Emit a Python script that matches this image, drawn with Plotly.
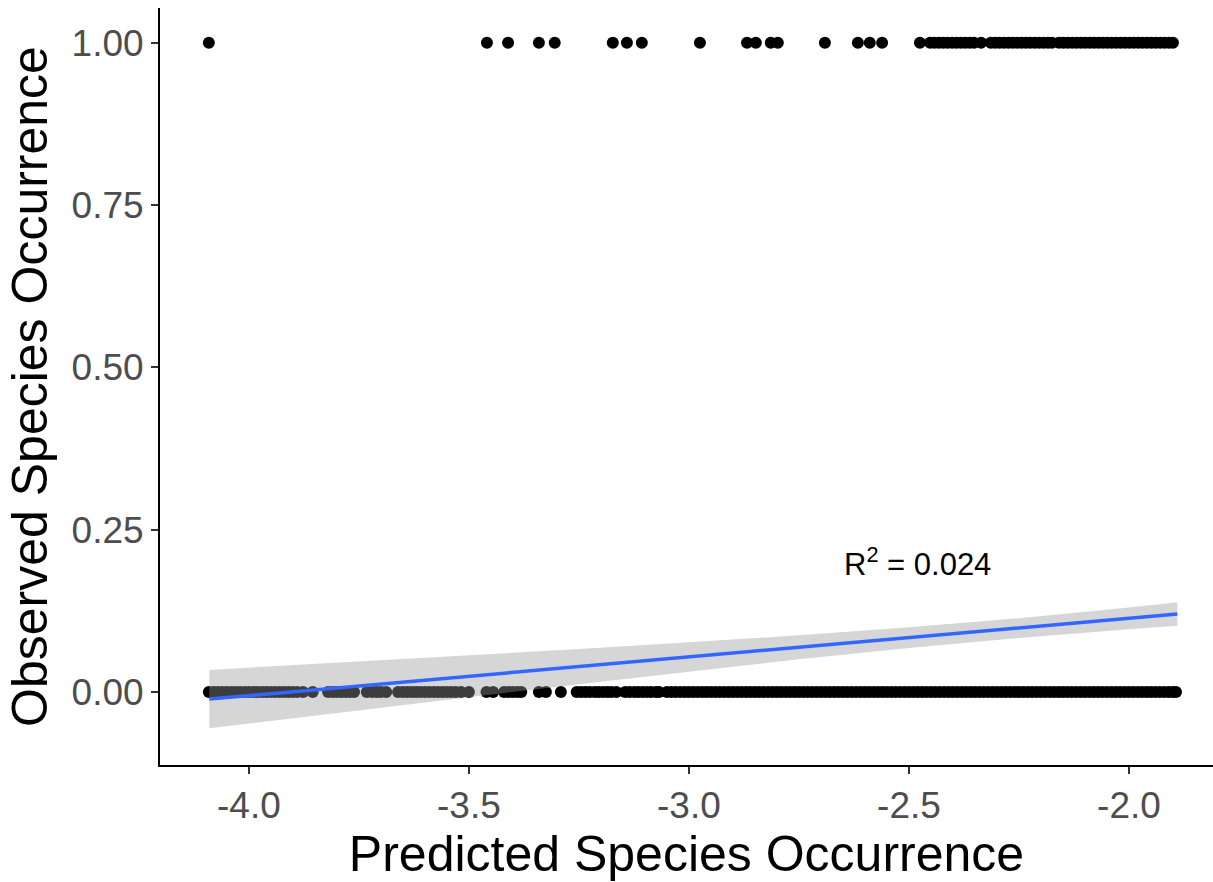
import plotly.graph_objects as go

# Observed presences (y = 1) — predicted occurrence values
x_present = [-4.091, -3.459, -3.411, -3.341, -3.305, -3.173, -3.141, -3.107,
             -2.975, -2.868, -2.848, -2.814, -2.798, -2.691, -2.616, -2.589, -2.561,
             -2.475, -2.452, -2.442, -2.432, -2.422, -2.412, -2.402, -2.392, -2.382,
             -2.372, -2.362, -2.352, -2.336, -2.314, -2.304, -2.294, -2.284, -2.274,
             -2.264, -2.254, -2.244, -2.234, -2.224, -2.214, -2.204, -2.194, -2.184,
             -2.175, -2.159, -2.149, -2.139, -2.129, -2.119, -2.109, -2.099, -2.089,
             -2.079, -2.069, -2.059, -2.049, -2.039, -2.029, -2.019, -2.009, -1.999,
             -1.989, -1.979, -1.969, -1.959, -1.949, -1.939, -1.929, -1.919, -1.909, -1.9]
y_present = [1.0] * len(x_present)

# Observed absences (y = 0)
x_absent = [-4.091, -4.08, -4.07, -4.06, -4.05, -4.04, -4.03, -4.02, -4.01, -4.0,
            -3.99, -3.98, -3.97, -3.96, -3.95, -3.94, -3.93, -3.92, -3.91, -3.9,
            -3.89, -3.877, -3.855, -3.82, -3.81, -3.8, -3.79, -3.78, -3.77, -3.761,
            -3.732, -3.72, -3.71, -3.7, -3.688, -3.661, -3.65, -3.64, -3.63, -3.62,
            -3.61, -3.6, -3.59, -3.58, -3.57, -3.56, -3.55, -3.54, -3.53, -3.518,
            -3.5, -3.46, -3.445, -3.42, -3.41, -3.4, -3.39, -3.381, -3.341, -3.325,
            -3.291, -3.255, -3.245, -3.235, -3.225, -3.214, -3.205, -3.195, -3.185, -3.176,
            -3.165, -3.145, -3.135, -3.124, -3.115, -3.105, -3.095, -3.086, -3.075, -3.068,
            -3.05, -3.04, -3.03, -3.02, -3.01, -3.0, -2.99, -2.98, -2.97, -2.96,
            -2.95, -2.94, -2.93, -2.92, -2.91, -2.9, -2.89, -2.88, -2.87, -2.86,
            -2.85, -2.84, -2.83, -2.82, -2.81, -2.8, -2.79, -2.78, -2.77, -2.76,
            -2.75, -2.74, -2.73, -2.72, -2.71, -2.7, -2.69, -2.68, -2.67, -2.66,
            -2.65, -2.64, -2.63, -2.62, -2.61, -2.6, -2.59, -2.58, -2.57, -2.56,
            -2.55, -2.54, -2.53, -2.52, -2.51, -2.5, -2.49, -2.48, -2.47, -2.46,
            -2.45, -2.44, -2.43, -2.42, -2.41, -2.4, -2.39, -2.38, -2.37, -2.36,
            -2.35, -2.34, -2.33, -2.32, -2.31, -2.3, -2.29, -2.28, -2.27, -2.26,
            -2.25, -2.24, -2.23, -2.22, -2.21, -2.2, -2.19, -2.18, -2.17, -2.16,
            -2.15, -2.14, -2.13, -2.12, -2.11, -2.1, -2.09, -2.08, -2.07, -2.06,
            -2.05, -2.04, -2.03, -2.02, -2.01, -2.0, -1.99, -1.98, -1.97, -1.96,
            -1.95, -1.94, -1.93, -1.92, -1.91, -1.9, -1.893]
y_absent = [0.0] * len(x_absent)

# Linear fit and its confidence band
fit_x = [-4.09, -3.75, -3.5, -3.25, -3.0, -2.75, -2.5, -2.25, -2.0, -1.89]
fit_y = [-0.011, 0.0092, 0.0241, 0.039, 0.0539, 0.0687, 0.0836, 0.0985, 0.1134, 0.12]
band_upper = [0.034, 0.0468, 0.0563, 0.0661, 0.0764, 0.0872, 0.0995, 0.1137, 0.1301, 0.138]
band_lower = [-0.056, -0.0284, -0.0081, 0.0119, 0.0314, 0.0502, 0.0677, 0.0833, 0.0967, 0.102]

x_tick_vals = [-4.0, -3.5, -3.0, -2.5, -2.0]
x_tick_text = ["-4.0", "-3.5", "-3.0", "-2.5", "-2.0"]
y_tick_vals = [0.0, 0.25, 0.5, 0.75, 1.0]
y_tick_text = ["0.00", "0.25", "0.50", "0.75", "1.00"]

r2_label = "R<sup>2</sup> = 0.024"
r2_pos = (-2.48, 0.2)

FONT = "Arial, Liberation Sans, sans-serif"

fig = go.Figure()
all_x = x_absent + x_present
all_y = y_absent + y_present
fig.add_trace(go.Scatter(x=all_x, y=all_y, mode="markers",
                         marker=dict(color="black", size=12, line=dict(width=0)),
                         showlegend=False, hoverinfo="skip"))
fig.add_trace(go.Scatter(x=fit_x + fit_x[::-1], y=band_upper + band_lower[::-1],
                         mode="lines", fill="toself", fillcolor="rgba(153,153,153,0.4)",
                         line=dict(width=0), showlegend=False, hoverinfo="skip"))
fig.add_trace(go.Scatter(x=fit_x, y=fit_y, mode="lines",
                         line=dict(color="#3366FF", width=3.5),
                         showlegend=False, hoverinfo="skip"))

fig.add_annotation(x=r2_pos[0], y=r2_pos[1], text=r2_label, showarrow=False,
                   font=dict(family=FONT, size=31, color="black"),
                   xanchor="center", yanchor="middle")

fig.update_layout(
    width=1213, height=882, autosize=False,
    margin=dict(l=160, r=0, t=8, b=117, pad=0),
    plot_bgcolor="white", paper_bgcolor="white",
    font=dict(family=FONT),
)
fig.update_xaxes(range=[-4.202, -1.809], showgrid=False, zeroline=False,
                 showline=True, linecolor="black", linewidth=2,
                 ticks="outside", ticklen=7, tickwidth=2, tickcolor="#333333",
                 tickvals=x_tick_vals, ticktext=x_tick_text,
                 tickfont=dict(family=FONT, size=37, color="#4D4D4D"),
                 title=dict(text="Predicted Species Occurrence",
                            font=dict(family=FONT, size=50, color="black"), standoff=6))
fig.update_yaxes(range=[-0.1125, 1.0535], showgrid=False, zeroline=False,
                 showline=True, linecolor="black", linewidth=2,
                 ticks="outside", ticklen=7, tickwidth=2, tickcolor="#333333",
                 tickvals=y_tick_vals, ticktext=y_tick_text,
                 tickfont=dict(family=FONT, size=37, color="#4D4D4D"),
                 title=dict(text="Observed Species Occurrence",
                            font=dict(family=FONT, size=50, color="black"), standoff=8))

fig.write_html("out.html")
